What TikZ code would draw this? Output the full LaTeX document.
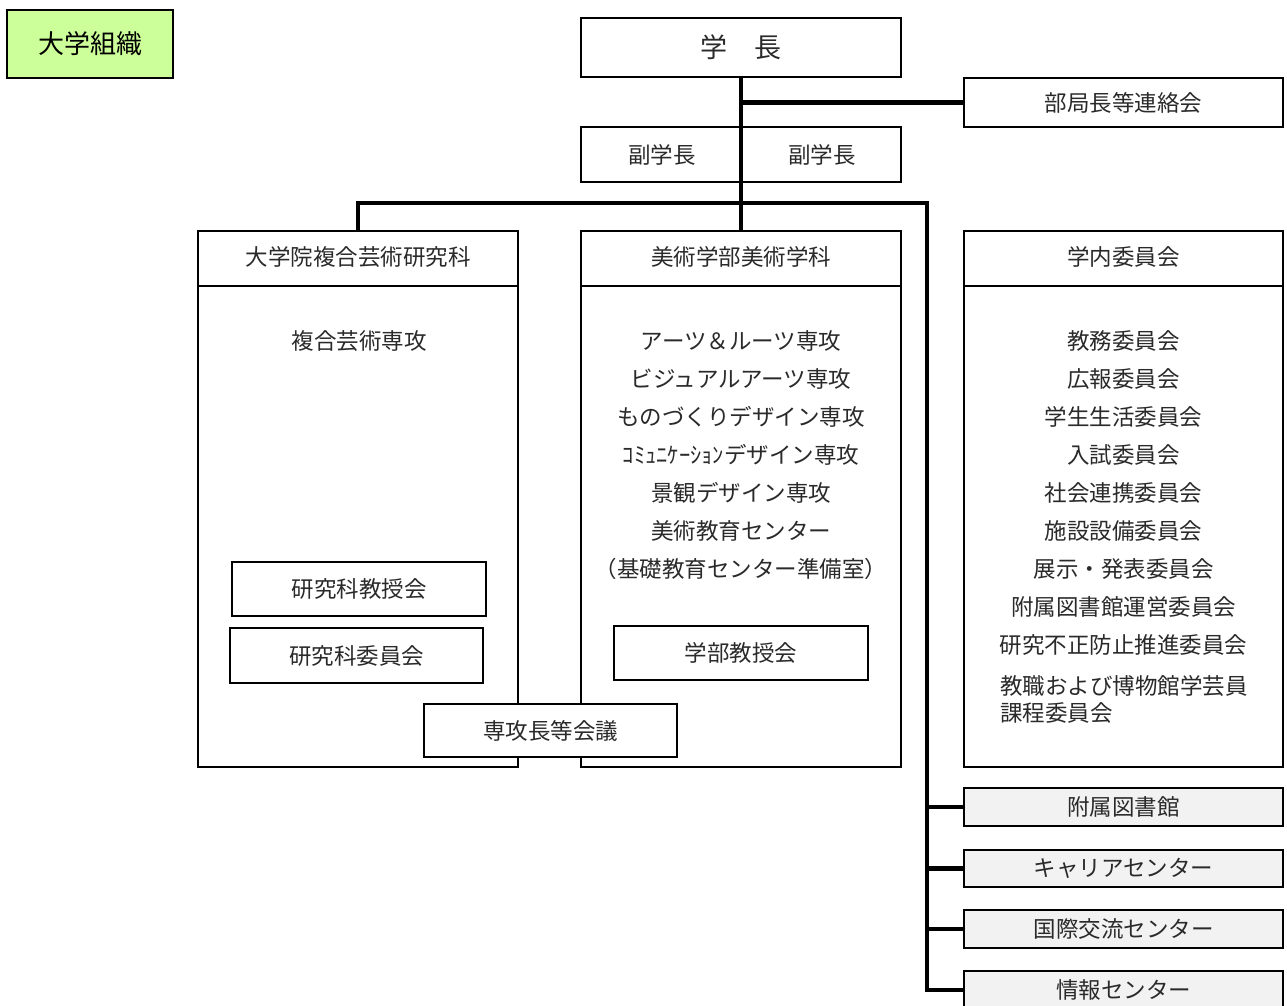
\documentclass[tikz,border=0pt]{standalone}
\usepackage{fontspec}
\newfontfamily\jp{Noto Sans CJK JP}
\definecolor{txtc}{HTML}{2A2A2A}
\definecolor{boxgray}{HTML}{F2F2F2}
\definecolor{titlegreen}{HTML}{CCFF99}
\newcommand\txtfont{\jp\fontsize{22.5}{27}\selectfont}
\tikzset{
 bx/.style={draw=black, line width=2.4pt, fill=white, inner sep=0pt},
 sbx/.style={draw=black, line width=2pt, fill=white, inner sep=0pt, font=\txtfont, text=txtc},
 gbx/.style={bx, fill=boxgray, font=\txtfont, text=txtc},
 lbl/.style={inner sep=0pt, font=\txtfont, text=txtc},
 conn/.style={line width=4.6pt, draw=black, line join=miter},
 hdr/.style={line width=2.2pt, draw=black},
}
\begin{document}
\begin{tikzpicture}[x=1pt,y=-1pt]
\clip (0,0) rectangle (1287,1005);
\fill[white] (0,0) rectangle (1287,1005);
% title
\node[draw=black, line width=1.6pt, fill=titlegreen, minimum width=166pt, minimum height=68pt, inner sep=0pt, font=\jp\fontsize{26}{30}\selectfont, text=black] (title) at (90,44) {大学組織};
% top
\node[bx, minimum width=320pt, minimum height=59pt, font=\jp\fontsize{27}{32}\selectfont, text=txtc] (gakucho) at (741,47.5) {学　長};
\node[bx, minimum width=319pt, minimum height=49pt, font=\txtfont, text=txtc] (bukyoku) at (1123.5,102.5) {部局長等連絡会};
\node[bx, minimum width=320pt, minimum height=55pt] (fukugaku) at (741,154.5) {};
\node[lbl] (fuku1) at (662,154.5) {副学長};
\node[lbl] (fuku2) at (822,154.5) {副学長};
% big boxes
\node[bx, minimum width=320pt, minimum height=536pt] (daigakuin) at (358,499) {};
\node[bx, minimum width=320pt, minimum height=536pt] (bijutsu) at (741,499) {};
\node[bx, minimum width=319pt, minimum height=536pt] (gakunai) at (1123.5,499) {};
\foreach \b in {daigakuin, bijutsu, gakunai}
  \draw[hdr] (\b.west |- 0,286) -- (\b.east |- 0,286);
\node[lbl] (h1) at (358,257) {大学院複合芸術研究科};
\node[lbl] (h2) at (741,257) {美術学部美術学科};
\node[lbl] (h3) at (1123.5,257) {学内委員会};
% left content
\node[lbl] (l1) at (359,341) {複合芸術専攻};
\node[sbx, minimum width=254pt, minimum height=54pt] (kkyoju) at (359,589) {研究科教授会};
\node[sbx, minimum width=253pt, minimum height=55pt] (kiin) at (356.5,655.5) {研究科委員会};
% middle content
\foreach \t [count=\i] in {アーツ＆ルーツ専攻, ビジュアルアーツ専攻, ものづくりデザイン専攻, ｺﾐｭﾆｹｰｼｮﾝデザイン専攻, 景観デザイン専攻, 美術教育センター, （基礎教育センター準備室）}
  \node[lbl] (m\i) at (741,303+38*\i) {\t};
\node[sbx, minimum width=254pt, minimum height=54pt] (gkyoju) at (741,653) {学部教授会};
% right content
\foreach \t [count=\i] in {教務委員会, 広報委員会, 学生生活委員会, 入試委員会, 社会連携委員会, 施設設備委員会, 展示・発表委員会, 附属図書館運営委員会, 研究不正防止推進委員会}
  \node[lbl] (r\i) at (1123.5,303+38*\i) {\t};
\node[lbl, anchor=west] (r10) at (1000,686) {教職および博物館学芸員};
\node[lbl, anchor=west] (r11) at (1000,713) {課程委員会};
% bottom right boxes
\node[gbx, minimum width=319pt, minimum height=38pt] (fuzoku) at (1123.5,807) {附属図書館};
\node[gbx, minimum width=319pt, minimum height=37pt] (career) at (1123.5,868.5) {キャリアセンター};
\node[gbx, minimum width=319pt, minimum height=38pt] (kokusai) at (1123.5,929) {国際交流センター};
\node[gbx, minimum width=319pt, minimum height=38pt] (joho) at (1123.5,990) {情報センター};
% connectors
\coordinate (busR) at (927,203);
\draw[conn] (gakucho.south) -- (bijutsu.north);
\draw[conn] (gakucho.south |- bukyoku.west) -- (bukyoku.west);
\draw[conn] (daigakuin.north) -- (daigakuin.north |- busR) -- (busR) -- (busR |- joho.west) -- (joho.west);
\foreach \n in {fuzoku, career, kokusai}
  \draw[conn] (busR |- \n.west) -- (\n.west);
% overlapping box
\node[sbx, minimum width=253pt, minimum height=53pt] (senko) at (550.5,730.5) {専攻長等会議};
\end{tikzpicture}
\end{document}
